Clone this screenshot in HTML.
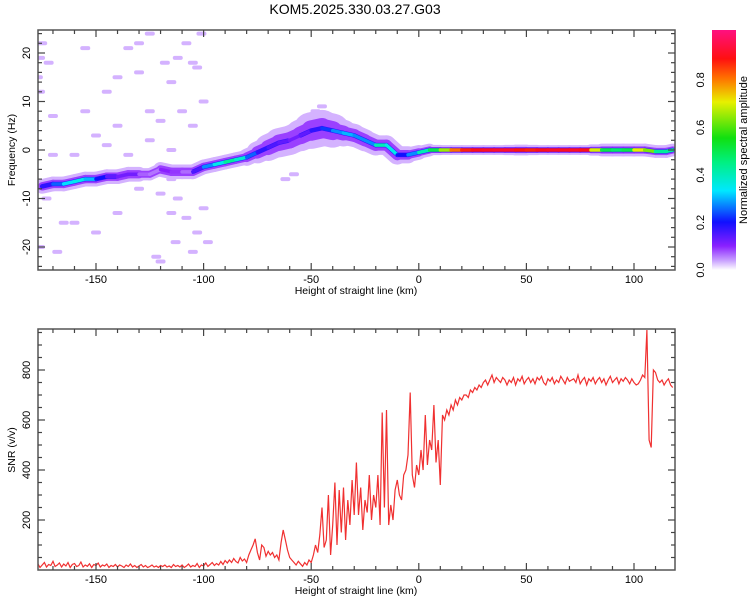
<!DOCTYPE html>
<html><head><meta charset="utf-8"><style>
body{margin:0;background:#fff;}
svg{display:block;font-family:"Liberation Sans",sans-serif;}
</style></head><body>
<svg id="c" width="750" height="600" viewBox="0 0 750 600">
<text x="355" y="14" font-size="14" text-anchor="middle">KOM5.2025.330.03.27.G03</text>
<defs>
<linearGradient id="cb" x1="0" y1="1" x2="0" y2="0">
<stop offset="0" stop-color="#ffffff"/><stop offset="0.04" stop-color="#c8a0ff"/><stop offset="0.1" stop-color="#8a20ff"/>
<stop offset="0.2" stop-color="#1010ff"/><stop offset="0.33" stop-color="#00e8ff"/><stop offset="0.45" stop-color="#00f080"/>
<stop offset="0.55" stop-color="#10e010"/><stop offset="0.7" stop-color="#e8f000"/><stop offset="0.8" stop-color="#ff7000"/>
<stop offset="0.88" stop-color="#ff1010"/><stop offset="1" stop-color="#ff1080"/>
</linearGradient>
<clipPath id="clipTop"><rect x="38" y="30" width="637" height="240"/></clipPath>
<clipPath id="clipBot"><rect x="38" y="329" width="637" height="241"/></clipPath>
</defs>
<g id="topPanel" clip-path="url(#clipTop)"></g>
<g id="botPanel" clip-path="url(#clipBot)"></g>
<g id="axes"></g>
<rect x="712" y="30" width="24" height="240" fill="url(#cb)"/>
<text transform="translate(747,150) rotate(-90)" font-size="11" text-anchor="middle">Normalized spectral amplitude</text>
</svg>
<script>
// ---- data ----
const ridgeHeights=[-175,-170,-165,-160,-155,-150,-145,-140,-135,-130,-125,-120,-115,-110,-105,-100,-95,-90,-85,-80,-75,-70,-65,-60,-55,-50,-45,-40,-35,-30,-25,-20,-15,-10,-5,0,5,10,15,20,25,30,35,40,45,50,55,60,65,70,75,80,85,90,95,100,105,110,115,118];
const ridgeFreqs=[-7.5,-7,-7,-6.5,-6,-6,-5.5,-5.5,-5,-5,-5,-4,-4.5,-4.5,-4.5,-3.5,-3,-2.5,-2,-1.5,-0.5,0.5,1.5,2,3,4,4.5,4,3.5,3,2,1,1,-1,-1,-0.5,0,0,0,0,0,0,0,0,0,0,0,0,0,0,0,0,0,0,0,0,0,-0.3,-0.3,0];
const ridgeAmps=[0.15,0.2,0.3,0.35,0.35,0.25,0.15,0.12,0.12,0.12,0.02,0.1,0.1,0.08,0.05,0.25,0.3,0.4,0.45,0.3,0.2,0.15,0.15,0.12,0.12,0.15,0.2,0.25,0.3,0.3,0.25,0.3,0.5,0.2,0.2,0.35,0.45,0.55,0.75,0.85,0.88,0.9,0.9,0.92,0.9,0.85,0.88,0.9,0.9,0.9,0.9,0.88,0.5,0.5,0.45,0.55,0.85,0.4,0.45,0.4];
const ridgeSpread=[2,2,2,2,2,2,2,2,2,2,1,2,2,2,2,2,2,2,2,2,3,4,5,5,5,6,7,5,4,3.5,3.5,3,3,3,2,2,1.2,1,1,1,1,1,1,1,1.2,1.2,1,1,1,1,1,1,1.6,1.6,1.6,1.6,1.6,1.6,1.6,1.6];
const noiseHeights=[-175,-172,-176,-170,-160,-165,-168,-150,-145,-140,-135,-130,-125,-120,-118,-115,-112,-108,-105,-103,-110,-105,-100,-125,-120,-115,-112,-108,-103,-100,-122,-120,-113,-105,-150,-140,-130,-135,-170,-160,-145,-155,-140,-130,-125,-101,-173,-90,-115,-155,-115,-98,-176,-176,-177,-45,-48,-62,-58];
const noiseFreqs=[22,18,12,7,-15,-15,-21,3,1,5,21,16,8,6,18,14,19,22,18,17,8,5,10,2,-9,-13,-10,-14,-17,-12,-22,-23,-19,-21,-17,-13,-8,-1,-1,-1,12,21,15,22,24,24,-10,-3,-6,8,0,-19,19,-20,15,9,8,-6,-5];
const snrStart=-178;
const snrValues=[15,25,10,20,30,12,22,18,35,14,
20,28,12,24,16,30,10,22,26,14,
18,32,12,20,15,25,10,22,18,28,
12,20,16,24,10,18,14,22,12,20,
16,10,20,14,24,12,18,10,16,22,
12,18,10,14,20,12,16,10,18,14,
20,12,16,10,22,14,18,12,20,10,
16,24,12,18,14,26,10,20,16,28,
14,22,30,18,26,20,34,22,38,28,
40,30,46,34,28,50,36,44,30,60,
80,100,125,70,40,100,90,55,75,60,
70,50,60,40,110,160,120,80,50,40,
30,20,35,25,15,30,20,40,30,60,
100,70,140,250,90,120,300,60,180,350,
100,320,150,330,120,280,180,360,220,430,
220,330,160,280,230,380,200,300,250,380,
180,630,250,640,180,260,200,320,360,300,
280,380,400,460,710,380,330,420,380,480,
400,620,420,520,480,660,430,520,340,620,
600,640,620,660,640,680,660,690,680,700,
700,690,720,710,730,720,740,730,750,760,
740,760,780,750,770,760,750,770,760,740,
760,750,770,740,765,755,775,745,760,770,
750,765,745,770,760,775,750,740,765,755,
770,745,760,750,775,760,745,770,755,760,
765,750,780,745,760,770,740,765,755,770,
745,760,770,750,765,740,760,775,750,760,
770,745,765,755,770,760,745,765,750,740,
745,760,780,770,960,520,490,800,790,760,
750,760,740,755,765,740,730];
const xTicks=[-150,-100,-50,0,50,100];
const fTicks=[-20,-10,0,10,20];
const snrTicks=[200,400,600,800];
const cbTicks=[0.0,0.2,0.4,0.6,0.8];

// ---- scales ----
const X=h=>418.8+h*2.152;
const FY=f=>150-f*4.85;
const SY=v=>570-v*0.25;
const CY=a=>270-a*240/1.01;
const NS='http://www.w3.org/2000/svg';
function mk(tag,parent,attrs){const e=document.createElementNS(NS,tag);for(const k in attrs)e.setAttribute(k,attrs[k]);parent.appendChild(e);return e;}
function cmap(a){
 const st=[[0,[255,255,255]],[0.04,[200,160,255]],[0.1,[138,32,255]],[0.2,[16,16,255]],[0.33,[0,232,255]],[0.45,[0,240,128]],[0.55,[16,224,16]],[0.7,[232,240,0]],[0.8,[255,112,0]],[0.88,[255,16,16]],[1,[255,16,128]]];
 for(let i=1;i<st.length;i++){if(a<=st[i][0]){const t=(a-st[i-1][0])/(st[i][0]-st[i-1][0]);const c=st[i-1][1].map((v,j)=>Math.round(v+(st[i][1][j]-v)*t));return 'rgb('+c.join(',')+')';}}
 return 'rgb(255,16,128)';
}
const topG=document.getElementById('topPanel'),botG=document.getElementById('botPanel'),axG=document.getElementById('axes');

// noise blobs
for(let i=0;i<noiseHeights.length;i++){
 const b=mk('rect',topG,{x:X(noiseHeights[i])-5,y:FY(noiseFreqs[i])-2,width:10,height:4,rx:2,fill:'#d4b2ff'});
 
 
}
// ridge layers
const layers=[[s=>s*4.85+5,()=> '#d4b2ff'],[s=>s*4.85*0.55+3,()=>'#9a40ff'],[s=>4.5,a=>a>0.12?'#3010ff':'#9a40ff'],[s=>3.5,a=>cmap(a)]];
layers.forEach((L)=>{
 for(let i=0;i<ridgeHeights.length-1;i++){
  const s=(ridgeSpread[i]+ridgeSpread[i+1])/2,a=(ridgeAmps[i]+ridgeAmps[i+1])/2;
  const seg=mk('line',topG,{x1:X(ridgeHeights[i]),y1:FY(ridgeFreqs[i]),x2:X(ridgeHeights[i+1]),y2:FY(ridgeFreqs[i+1]),stroke:L[1](a),'stroke-width':L[0](s),'stroke-linecap':'round'});
  
  
 }
});
// SNR line
let d='';snrValues.forEach((v,i)=>{d+=(i?'L':'M')+X(snrStart+i).toFixed(1)+','+SY(v).toFixed(1);});
const ln=mk('path',botG,{d:d,fill:'none',stroke:'#f03030','stroke-width':1.2});



// axes
function frame(y0,y1,name){
 const r=mk('rect',axG,{x:38,y:y0,width:637,height:y1-y0,fill:'none',stroke:'#555','stroke-width':1.5});
 
 
 for(let h=-170;h<=118;h+=10){const len=(h%50===0)?7:4;
  mk('line',axG,{x1:X(h),x2:X(h),y1:y1,y2:y1-len,stroke:'#444','stroke-width':1.2});
  mk('line',axG,{x1:X(h),x2:X(h),y1:y0,y2:y0+len,stroke:'#444','stroke-width':1.2});}
 xTicks.forEach(t=>{const tx=mk('text',axG,{x:X(t),y:y1+13,'font-size':11,'text-anchor':'middle'});tx.textContent=t;
  
  });
 const xl=mk('text',axG,{x:356,y:y1+24,'font-size':10.5,'text-anchor':'middle'});xl.textContent='Height of straight line (km)';
 
 
}
frame(30,270,'spectrogram-frame');frame(329,570,'snr-frame');
for(let f=-24;f<=24;f+=2){const len=(f%10===0)?7:4;
 mk('line',axG,{x1:38,x2:38+len,y1:FY(f),y2:FY(f),stroke:'#444','stroke-width':1.2});
 mk('line',axG,{x1:675,x2:675-len,y1:FY(f),y2:FY(f),stroke:'#444','stroke-width':1.2});}
fTicks.forEach(t=>{const tx=mk('text',axG,{transform:`translate(30,${FY(t)}) rotate(-90)`,'font-size':11,'text-anchor':'middle'});tx.textContent=t;
 
 });
for(let v=50;v<=950;v+=50){const len=(v%200===0)?7:4;
 mk('line',axG,{x1:38,x2:38+len,y1:SY(v),y2:SY(v),stroke:'#444','stroke-width':1.2});
 mk('line',axG,{x1:675,x2:675-len,y1:SY(v),y2:SY(v),stroke:'#444','stroke-width':1.2});}
snrTicks.forEach(t=>{const tx=mk('text',axG,{transform:`translate(30,${SY(t)}) rotate(-90)`,'font-size':11,'text-anchor':'middle'});tx.textContent=t;
 
 });
cbTicks.forEach(t=>{const tx=mk('text',axG,{transform:`translate(704,${CY(t)}) rotate(-90)`,'font-size':11,'text-anchor':'middle'});tx.textContent=t.toFixed(1);
 
 });
const yl1=mk('text',axG,{transform:'translate(15,150) rotate(-90)','font-size':10.5,'text-anchor':'middle'});yl1.textContent='Frequency (Hz)';


const yl2=mk('text',axG,{transform:'translate(15,450) rotate(-90)','font-size':10.5,'text-anchor':'middle'});yl2.textContent='SNR (v/v)';


</script>
</body></html>
